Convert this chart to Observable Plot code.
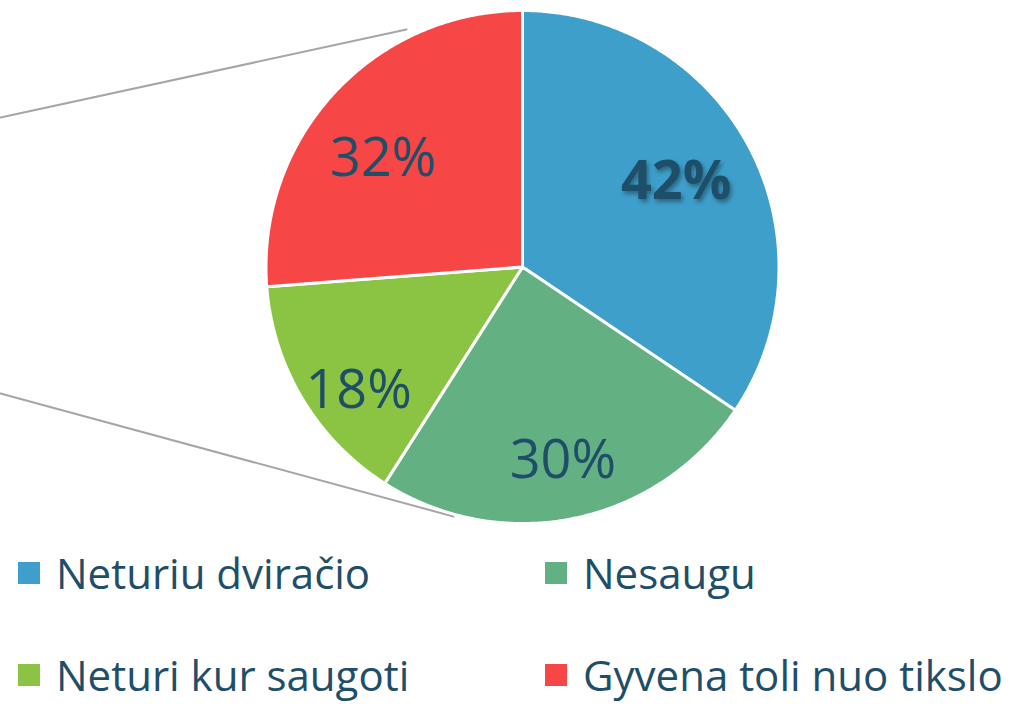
<!DOCTYPE html>
<html>
<head>
<meta charset="utf-8">
<script src="https://cdn.jsdelivr.net/npm/d3@7"></script>
<script src="https://cdn.jsdelivr.net/npm/@observablehq/plot@0.6"></script>
<style>
  html, body { margin: 0; padding: 0; background: #fff; overflow: hidden; }
  body { width: 1009px; height: 706px; font-family: "Open Sans", sans-serif; }
  #chart svg { display: block; overflow: visible; }
  .bold-label text { filter: drop-shadow(2px 3px 2px rgba(0,0,0,0.35)); }
  #legend { display: grid; grid-template-columns: 527px 482px; grid-template-rows: 110px 94px; margin-top: -12px; }
  .item { display: flex; align-items: center; padding-left: 18px; }
  .swatch { width: 22px; height: 22px; margin-right: 16px; flex: none; }
  .lab { font-size: 42px; line-height: 1; color: #1f4e69; white-space: nowrap; }
</style>
</head>
<body>
<div id="chart"></div>
<div id="legend"></div>
<script>
// ---- data ----
const categories = ["Neturiu dviračio", "Nesaugu", "Neturi kur saugoti", "Gyvena toli nuo tikslo"];
const values = [42, 30, 18, 32];
const valueLabels = ["42%", "30%", "18%", "32%"];
const colors = ["#3E9FCB", "#63B083", "#8BC443", "#F64646"];
const boldLabel = [true, false, false, false];

// ---- layout (unit = pie radius) ----
const W = 1009, H = 530;
const R = 256.5, CX = 522, CY = 266.5;
const labelRadius = [0.685, 0.77, 0.80, 0.687];
const labelNudgeDeg = [-1, 0, -6, -5];
// decorative connector lines (bar-of-pie remnants), in radius units
const connectors = [
  [[-CX / R, -0.5828], [-0.4522, -0.9259]],
  [[-CX / R, 0.4932], [-0.2690, 0.9727]]
];

const arcs = d3.pie().sort(null).value(d => d)(values);

const slicePts = [];
arcs.forEach((a, i) => {
  slicePts.push({cat: categories[i], x: 0, y: 0});
  const n = Math.max(2, Math.ceil((a.endAngle - a.startAngle) / (Math.PI / 360)));
  for (let k = 0; k <= n; k++) {
    const t = a.startAngle + (a.endAngle - a.startAngle) * k / n;
    slicePts.push({cat: categories[i], x: Math.sin(t), y: -Math.cos(t)});
  }
});

const labelData = arcs.map((a, i) => {
  const m = (a.startAngle + a.endAngle) / 2 + labelNudgeDeg[i] * Math.PI / 180;
  return {text: valueLabels[i], bold: boldLabel[i], x: Math.sin(m) * labelRadius[i], y: -Math.cos(m) * labelRadius[i]};
});

const connPts = connectors.flatMap((seg, j) => seg.map(([x, y]) => ({id: j, x, y})));

const plot = Plot.plot({
  width: W,
  height: H,
  margin: 0,
  x: {domain: [-CX / R, (W - CX) / R], range: [0, W], axis: null},
  y: {domain: [-CY / R, (H - CY) / R], range: [0, H], axis: null},
  color: {domain: categories, range: colors},
  style: {background: "transparent", fontFamily: "'Open Sans', sans-serif"},
  marks: [
    Plot.line(connPts, {x: "x", y: "y", z: "id", stroke: "#A6A6A6", strokeWidth: 2}),
    Plot.line(slicePts, {x: "x", y: "y", z: "cat", fill: "cat", stroke: "white", strokeWidth: 3, curve: "linear-closed", strokeLinejoin: "miter"}),
    Plot.text(labelData.filter(d => !d.bold), {x: "x", y: "y", text: "text", fontSize: 54, fill: "#1f4e69"}),
    Plot.text(labelData.filter(d => d.bold), {x: "x", y: "y", text: "text", fontSize: 54, fontWeight: "bold", fill: "#1f4e69", className: "bold-label"})
  ]
});
document.getElementById("chart").appendChild(plot);

// ---- legend ----
const legend = document.getElementById("legend");
categories.forEach((c, i) => {
  const item = document.createElement("div");
  item.className = "item";
  const sw = document.createElement("span");
  sw.className = "swatch";
  sw.style.background = colors[i];
  const lb = document.createElement("span");
  lb.className = "lab";
  lb.textContent = c;
  item.appendChild(sw);
  item.appendChild(lb);
  legend.appendChild(item);
});
</script>
</body>
</html>
